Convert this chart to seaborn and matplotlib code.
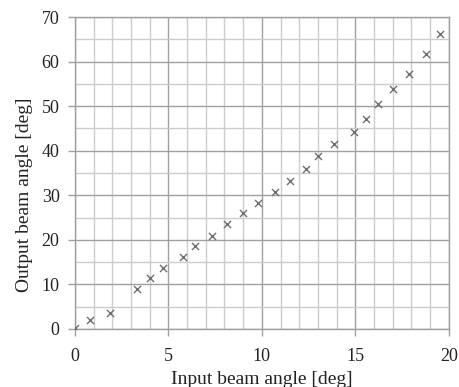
import matplotlib
matplotlib.use("Agg")
import matplotlib.pyplot as plt
import seaborn as sns
import pandas as pd
from matplotlib.ticker import MultipleLocator

input_angle = [0.0, 0.8, 1.87, 3.35, 4.03, 4.74, 5.76, 6.45, 7.31, 8.15, 8.98, 9.8,
               10.7, 11.53, 12.35, 13.0, 13.85, 14.94, 15.58, 16.2, 17.02, 17.84, 18.75, 19.52]
output_angle = [0.2, 2.1, 3.5, 9.0, 11.4, 13.6, 16.1, 18.7, 20.9, 23.6, 26.0, 28.3,
                30.8, 33.2, 35.9, 38.9, 41.5, 44.3, 47.2, 50.4, 53.8, 57.3, 61.6, 66.2]
x_label = "Input beam angle [deg]"
y_label = "Output beam angle [deg]"

df = pd.DataFrame({"x": input_angle, "y": output_angle})

sns.set_style("white")
plt.rcParams["font.family"] = ["Liberation Serif", "DejaVu Serif"]

fig = plt.figure(figsize=(4.59, 3.87), dpi=100)
ax = fig.add_axes([0.163, 0.150, 0.815, 0.806])

sns.scatterplot(data=df, x="x", y="y", marker="x", color="#6e6e6e", s=26,
                linewidth=1.0, ax=ax, zorder=3)

ax.set_xlim(0, 20)
ax.set_ylim(0, 70)
ax.xaxis.set_major_locator(MultipleLocator(5))
ax.xaxis.set_minor_locator(MultipleLocator(1))
ax.yaxis.set_major_locator(MultipleLocator(10))
ax.yaxis.set_minor_locator(MultipleLocator(5))
ax.grid(which="major", color="#a0a0a0", linewidth=1.0, zorder=0)
ax.grid(which="minor", color="#cccccc", linewidth=1.0, zorder=0)
ax.set_axisbelow(True)

for side in ["top", "right", "left", "bottom"]:
    ax.spines[side].set_color("#a0a0a0")
    ax.spines[side].set_linewidth(1.0)

ax.tick_params(which="major", direction="out", length=5, width=1.0, color="#a0a0a0",
               labelsize=13, labelcolor="#222222", left=True, bottom=True)
ax.tick_params(axis="x", which="major", pad=9)
ax.tick_params(axis="y", which="major", pad=6)
ax.tick_params(which="minor", length=0)

ax.set_xlabel(x_label, fontsize=14, color="#222222")
ax.set_ylabel(y_label, fontsize=14, color="#222222")
ax.xaxis.set_label_coords(0.5, -0.135)
ax.yaxis.set_label_coords(-0.113, 0.43)

fig.savefig("out.png", dpi=100)
